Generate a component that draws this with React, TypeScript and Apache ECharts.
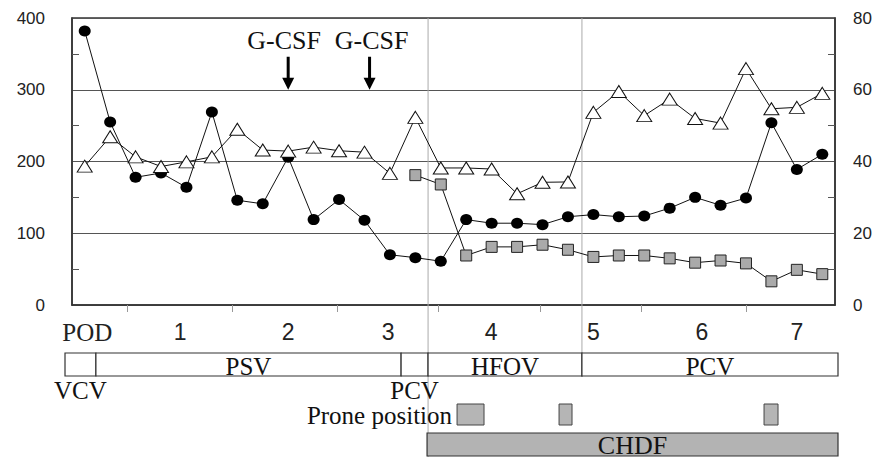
import React, { useEffect, useRef } from 'react';
import * as echarts from 'echarts';

// ---- data ----
const circleValues = [382, 255, 178, 184, 164, 269, 146, 141, 206, 119, 147, 118, 70, 66, 61, 119, 114, 114, 112, 123, 126, 123, 124, 135, 150, 139, 149, 254, 189, 210];
const triangleValues = [38.7, 46.9, 41.3, 38.6, 39.9, 41.3, 49, 43.2, 42.9, 44, 43, 42.6, 36.7, 52.3, 38.2, 38.2, 37.9, 31, 34.2, 34.3, 53.7, 59.5, 52.8, 57.4, 52, 50.7, 65.9, 54.7, 55.1, 59];
const squareStart = 13;
const squareValues = [181, 168, 69, 81, 81, 84, 77, 67, 69, 69, 65, 59, 62, 58, 33, 49, 43];

const dayLabels = ['POD', '1', '2', '3', '4', '5', '6', '7'];
const dayLabelPos = [0.1, 3.75, 8, 11.93, 15.98, 20, 24.27, 28];
const dayTickPos = [1.66, 5.79, 9.92, 13.89, 17.9, 21.88, 26.0];

const gcsfPos = [8, 11.2];
const gcsfLevel = 300;

const modeSegments = [[-0.775, 0.44], [0.44, 12.44], [12.44, 13.5], [13.5, 19.55], [19.55, 29.618]];
const modeLabels = ['VCV', 'PSV', 'PCV', 'HFOV', 'PCV'];
const modeLabelBelow = [true, false, true, false, false];
const proneSegments = [[14.64, 15.7], [18.65, 19.16], [26.71, 27.26]];
const chdfSegments = [[13.46, 29.618]];
const phaseDividers = [13.5, 19.55];

const SERIF = '"Liberation Serif", "Times New Roman", serif';
const SANS = '"Liberation Sans", Arial, sans-serif';

export default function App() {
  const ref = useRef<HTMLDivElement>(null);
  useEffect(() => {
    if (!ref.current) return;
    const chart = echarts.init(ref.current, null, { renderer: 'svg' });
    const xOf = (api: any, v: number) => api.coord([v, 0])[0];
    const gcsfLabelShift = [-4, 2];

    const option: any = {
      animation: false,
      backgroundColor: '#fff',
      grid: { left: 72, right: 43, top: 18, bottom: 154, show: true, borderColor: '#333', borderWidth: 1.5, containLabel: false },
      xAxis: {
        type: 'value', min: -0.5, max: 29.5,
        axisLine: { show: true, onZero: false, lineStyle: { color: '#333', width: 1.5 } },
        splitLine: { show: false },
        axisTick: { show: true, customValues: dayTickPos, length: 7, lineStyle: { color: '#999' } },
        axisLabel: {
          customValues: dayLabelPos,
          margin: 15,
          fontSize: 23,
          fontFamily: SANS,
          color: '#222',
          formatter: (v: number) => {
            const i = dayLabelPos.findIndex((p) => Math.abs(p - v) < 1e-6);
            const t = i >= 0 ? dayLabels[i] : '';
            return t === 'POD' ? '{s|POD}' : t;
          },
          rich: { s: { fontFamily: SERIF, fontSize: 25, color: '#222' } },
        },
      },
      yAxis: [
        {
          type: 'value', min: 0, max: 400, interval: 100, position: 'left',
          axisLine: { show: true, onZero: false, lineStyle: { color: '#333', width: 1.5 } },
          axisTick: { show: false, inside: true },
          minorTick: { show: true, splitNumber: 2, length: 7, lineStyle: { color: '#555' } },
          splitLine: { show: true, lineStyle: { color: '#555', width: 1 } },
          axisLabel: { fontSize: 17, fontFamily: SANS, color: '#222', margin: 27 },
        },
        {
          type: 'value', min: 0, max: 80, interval: 20, position: 'right',
          axisLine: { show: true, onZero: false, lineStyle: { color: '#333', width: 1.5 } },
          axisTick: { show: false, inside: true },
          minorTick: { show: true, splitNumber: 2, length: 7, lineStyle: { color: '#555' } },
          splitLine: { show: false },
          axisLabel: { fontSize: 17, fontFamily: SANS, color: '#222', margin: 18 },
        },
      ],
      series: [
        {
          type: 'custom', name: 'dividers', coordinateSystem: 'cartesian2d', clip: false, silent: true, z: 1,
          data: phaseDividers.map((d) => [d, 0]),
          renderItem: (params: any, api: any) => {
            const x = xOf(api, api.value(0));
            const bottom = params.dataIndex === 0 ? 457 : 377;
            return { type: 'line', shape: { x1: x, y1: 18, x2: x, y2: bottom }, style: { stroke: '#aaa', lineWidth: 1 } };
          },
        },
        {
          type: 'line', name: 'circles', yAxisIndex: 0, z: 3,
          data: circleValues.map((v, i) => [i, v]),
          symbol: 'circle', symbolSize: [12, 11],
          itemStyle: { color: '#000' },
          lineStyle: { color: '#111', width: 1 },
          markPoint: {
            symbol: 'path://M4.5,0 L7.5,0 L7.5,21 L12,21 L6,33 L0,21 L4.5,21 Z',
            symbolSize: [12, 33],
            symbolOffset: [0, '-50%'],
            itemStyle: { color: '#000' },
            label: { show: true, position: 'top', distance: 3, formatter: 'G-CSF', fontFamily: SERIF, fontSize: 26, color: '#111' },
            data: gcsfPos.map((x, i) => ({ coord: [x, gcsfLevel], label: { offset: [gcsfLabelShift[i], 0] } })),
          },
        },
        {
          type: 'line', name: 'triangles', yAxisIndex: 1, z: 4,
          data: triangleValues.map((v, i) => [i, v]),
          symbol: 'triangle', symbolSize: [15, 12],
          itemStyle: { color: '#fff', borderColor: '#111', borderWidth: 1 },
          lineStyle: { color: '#111', width: 1 },
        },
        {
          type: 'line', name: 'squares', yAxisIndex: 0, z: 5,
          data: squareValues.map((v, i) => [i + squareStart, v]),
          symbol: 'rect', symbolSize: 11,
          itemStyle: { color: '#aaa', borderColor: '#222', borderWidth: 1 },
          lineStyle: { color: '#111', width: 1 },
        },
        {
          type: 'custom', name: 'mode', coordinateSystem: 'cartesian2d', clip: false, silent: true,
          data: modeSegments,
          renderItem: (params: any, api: any) => {
            const i = params.dataIndex;
            const x0 = xOf(api, api.value(0));
            const x1 = xOf(api, api.value(1));
            const below = modeLabelBelow[i];
            return {
              type: 'group',
              children: [
                { type: 'rect', shape: { x: x0, y: 353, width: x1 - x0, height: 23 }, style: { fill: '#fff', stroke: '#333', lineWidth: 1.2 } },
                { type: 'text', style: { text: modeLabels[i], x: (x0 + x1) / 2, y: below ? 390 : 366, align: 'center', verticalAlign: 'middle', fontSize: 25, fontFamily: SERIF, fill: '#111' } },
              ],
            };
          },
        },
        {
          type: 'custom', name: 'prone', coordinateSystem: 'cartesian2d', clip: false, silent: true,
          data: proneSegments,
          renderItem: (params: any, api: any) => {
            const x0 = xOf(api, api.value(0));
            const x1 = xOf(api, api.value(1));
            const children: any[] = [
              { type: 'rect', shape: { x: x0, y: 404, width: x1 - x0, height: 21 }, style: { fill: '#b5b5b5', stroke: '#444', lineWidth: 1 } },
            ];
            if (params.dataIndex === 0) {
              children.push({ type: 'text', style: { text: 'Prone position', x: x0 - 5, y: 415, align: 'right', verticalAlign: 'middle', fontSize: 25, fontFamily: SERIF, fill: '#111' } });
            }
            return { type: 'group', children };
          },
        },
        {
          type: 'custom', name: 'chdf', coordinateSystem: 'cartesian2d', clip: false, silent: true,
          data: chdfSegments,
          renderItem: (params: any, api: any) => {
            const x0 = xOf(api, api.value(0));
            const x1 = xOf(api, api.value(1));
            return {
              type: 'group',
              children: [
                { type: 'rect', shape: { x: x0, y: 433, width: x1 - x0, height: 23 }, style: { fill: '#b3b3b3', stroke: '#333', lineWidth: 1.2 } },
                { type: 'text', style: { text: 'CHDF', x: (x0 + x1) / 2, y: 445, align: 'center', verticalAlign: 'middle', fontSize: 26, fontFamily: SERIF, fill: '#111' } },
              ],
            };
          },
        },
      ],
    };
    chart.setOption(option);
    return () => chart.dispose();
  }, []);
  return <div ref={ref} style={{ position: 'fixed', left: 0, top: 0, width: 878, height: 459 }} />;
}
